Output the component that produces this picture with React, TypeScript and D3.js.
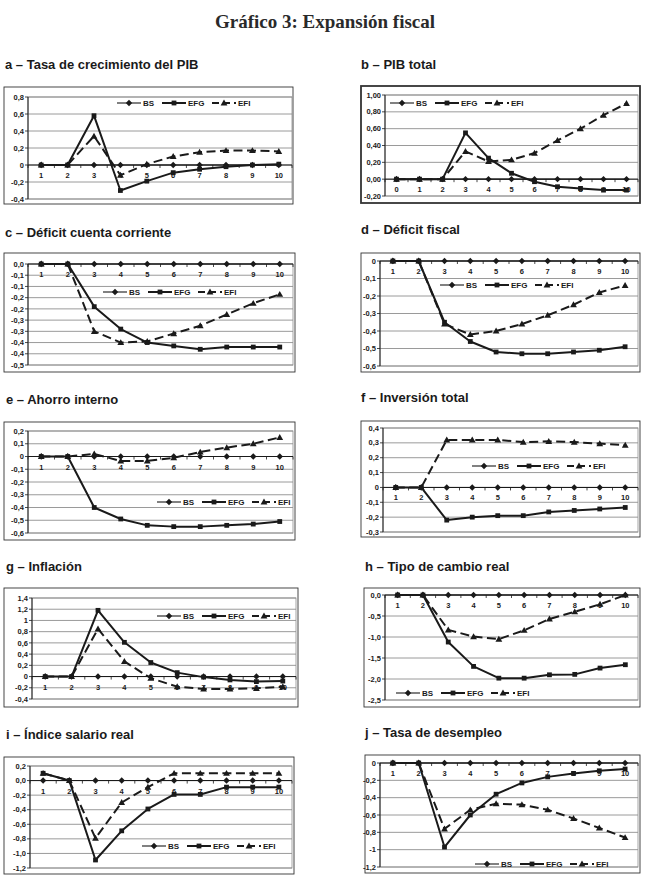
import * as d3 from "d3";

// categories
const periods = ["1", "2", "3", "4", "5", "6", "7", "8", "9", "10"];
const periodsB = ["0", "1", "2", "3", "4", "5", "6", "7", "8", "9", "10"];

// a - Tasa de crecimiento del PIB
const aBS = [0, 0, 0, 0, 0, 0, 0, 0, 0, 0];
const aEFG = [0, 0, 0.58, -0.3, -0.19, -0.09, -0.05, -0.02, 0, 0.01];
const aEFI = [0, 0, 0.34, -0.12, 0.01, 0.1, 0.15, 0.17, 0.17, 0.16];

// b - PIB total
const bBS = [0, 0, 0, 0, 0, 0, 0, 0, 0, 0, 0];
const bEFG = [0, 0, 0, 0.55, 0.25, 0.07, -0.03, -0.09, -0.11, -0.13, -0.13];
const bEFI = [0, 0, 0, 0.33, 0.21, 0.23, 0.31, 0.46, 0.6, 0.76, 0.9];

// c - Déficit cuenta corriente
const cBS = [0, 0, 0, 0, 0, 0, 0, 0, 0, 0];
const cEFG = [0, 0, -0.19, -0.29, -0.35, -0.365, -0.38, -0.37, -0.37, -0.37];
const cEFI = [0, 0, -0.3, -0.35, -0.345, -0.31, -0.275, -0.225, -0.175, -0.135];

// d - Déficit fiscal
const dBS = [0, 0, 0, 0, 0, 0, 0, 0, 0, 0];
const dEFG = [0, 0, -0.35, -0.46, -0.52, -0.53, -0.53, -0.52, -0.51, -0.49];
const dEFI = [0, 0, -0.36, -0.42, -0.4, -0.36, -0.31, -0.25, -0.18, -0.14];

// e - Ahorro interno
const eBS = [0, 0, 0, 0, 0, 0, 0, 0, 0, 0];
const eEFG = [0, 0, -0.4, -0.49, -0.54, -0.55, -0.55, -0.54, -0.53, -0.51];
const eEFI = [0, 0, 0.02, -0.035, -0.035, -0.01, 0.035, 0.07, 0.1, 0.15];

// f - Inversión total
const fBS = [0, 0, 0, 0, 0, 0, 0, 0, 0, 0];
const fEFG = [0, 0, -0.22, -0.2, -0.19, -0.19, -0.165, -0.155, -0.145, -0.135];
const fEFI = [0, 0, 0.32, 0.32, 0.32, 0.305, 0.31, 0.305, 0.295, 0.285];

// g - Inflación
const gBS = [0, 0, 0, 0, 0, 0, 0, 0, 0, 0];
const gEFG = [0, 0, 1.18, 0.61, 0.25, 0.07, -0.01, -0.06, -0.09, -0.08];
const gEFI = [0, 0, 0.85, 0.27, -0.03, -0.18, -0.22, -0.22, -0.21, -0.18];

// h - Tipo de cambio real
const hBS = [0, 0, 0, 0, 0, 0, 0, 0, 0, 0];
const hEFG = [0, 0, -1.12, -1.7, -1.98, -1.98, -1.9, -1.89, -1.74, -1.66];
const hEFI = [0, 0, -0.83, -0.99, -1.05, -0.84, -0.57, -0.4, -0.22, 0];

// i - Índice salario real
const iBS = [0, 0, 0, 0, 0, 0, 0, 0, 0, 0];
const iEFG = [0.1, 0, -1.09, -0.69, -0.39, -0.19, -0.19, -0.09, -0.09, -0.09];
const iEFI = [0.1, 0, -0.79, -0.3, -0.09, 0.1, 0.1, 0.1, 0.1, 0.1];

// j - Tasa de desempleo
const jBS = [0, 0, 0, 0, 0, 0, 0, 0, 0, 0];
const jEFG = [0, 0, -0.97, -0.6, -0.36, -0.23, -0.16, -0.12, -0.09, -0.07];
const jEFI = [0, 0, -0.76, -0.54, -0.47, -0.48, -0.54, -0.64, -0.75, -0.86];

const seriesNames = ["BS", "EFG", "EFI"];

type PanelDef = {
  title: string;
  tx: number;
  ty: number;
  box: [number, number, number, number];
  plot: [number, number, number, number];
  domain: [number, number];
  step: number;
  dec: number | null;
  cats: string[];
  bs: number[];
  efg: number[];
  efi: number[];
  legend: [number, number];
  thick?: boolean;
};

const panels: PanelDef[] = [
  { title: "a – Tasa de crecimiento del PIB", tx: 5, ty: 69, box: [4, 87, 293, 204], plot: [28, 97, 292, 199], domain: [-0.4, 0.8], step: 0.2, dec: null, cats: periods, bs: aBS, efg: aEFG, efi: aEFI, legend: [117, 103] },
  { title: "b – PIB total", tx: 361, ty: 69, box: [361, 86, 640, 203], plot: [385, 95, 638, 196], domain: [-0.2, 1.0], step: 0.2, dec: 2, cats: periodsB, bs: bBS, efg: bEFG, efi: bEFI, legend: [390, 103], thick: true },
  { title: "c – Déficit cuenta corriente", tx: 5, ty: 237, box: [4, 253, 295, 372], plot: [28, 264, 293, 365], domain: [-0.45, 0], step: 0.05, dec: 1, cats: periods, bs: cBS, efg: cEFG, efi: cEFI, legend: [103, 292] },
  { title: "d – Déficit fiscal", tx: 361, ty: 234, box: [361, 253, 640, 372], plot: [380, 261, 638, 366], domain: [-0.6, 0], step: 0.1, dec: null, cats: periods, bs: dBS, efg: dEFG, efi: dEFI, legend: [440, 285] },
  { title: "e – Ahorro interno", tx: 6, ty: 404, box: [4, 422, 295, 540], plot: [28, 431, 293, 533], domain: [-0.6, 0.2], step: 0.1, dec: null, cats: periods, bs: eBS, efg: eEFG, efi: eEFI, legend: [157, 502] },
  { title: "f – Inversión total", tx: 361, ty: 402, box: [361, 421, 640, 537], plot: [383, 428, 638, 532], domain: [-0.3, 0.4], step: 0.1, dec: null, cats: periods, bs: fBS, efg: fEFG, efi: fEFI, legend: [472, 466] },
  { title: "g – Inflación", tx: 6, ty: 571, box: [4, 588, 298, 707], plot: [32, 598, 296, 699], domain: [-0.4, 1.4], step: 0.2, dec: null, cats: periods, bs: gBS, efg: gEFG, efi: gEFI, legend: [157, 616] },
  { title: "h – Tipo de cambio real", tx: 365, ty: 571, box: [364, 588, 640, 707], plot: [385, 595, 638, 700], domain: [-2.5, 0], step: 0.5, dec: 1, cats: periods, bs: hBS, efg: hEFG, efi: hEFI, legend: [396, 693] },
  { title: "i – Índice salario real", tx: 6, ty: 739, box: [4, 757, 294, 874], plot: [30, 766, 292, 868], domain: [-1.2, 0.2], step: 0.2, dec: 1, cats: periods, bs: iBS, efg: iEFG, efi: iEFI, legend: [142, 846] },
  { title: "j – Tasa de desempleo", tx: 365, ty: 737, box: [365, 755, 640, 873], plot: [380, 763, 638, 867], domain: [-1.2, 0], step: 0.2, dec: null, cats: periods, bs: jBS, efg: jEFG, efi: jEFI, legend: [475, 864] },
];

function fmt(v: number, dec: number | null) {
  if (Math.abs(v) < 1e-9) v = 0;
  if (dec === null) {
    return String(+v.toFixed(4)).replace(".", ",");
  }
  const p = Math.pow(10, dec);
  const a = Math.round(Math.abs(v) * p + 1e-6) / p;
  return (v < 0 ? "-" : "") + a.toFixed(dec).replace(".", ",");
}

const INK = "#1a1a1a";
const GRID = "#8e8e8e";
const font = "'Liberation Sans', Arial, sans-serif";

function Marker({ kind, x, y }: { kind: number; x: number; y: number }) {
  if (kind === 0) {
    const r = 3.2;
    return <path d={`M${x},${y - r}L${x + r},${y}L${x},${y + r}L${x - r},${y}Z`} fill={INK} />;
  }
  if (kind === 1) {
    const r = 2.4;
    return <rect x={x - r} y={y - r} width={2 * r} height={2 * r} fill={INK} />;
  }
  const s = 3.4;
  return <path d={`M${x},${y - s}L${x + s},${y + s * 0.75}L${x - s},${y + s * 0.75}Z`} fill={INK} />;
}

const lineStyle = [
  { w: 1.1, dash: undefined },
  { w: 2, dash: undefined },
  { w: 2, dash: "9,4.5" },
];

function Panel({ p }: { p: PanelDef }) {
  const [px0, py0, px1, py1] = p.plot;
  const x = d3.scaleBand<string>().domain(p.cats).range([px0, px1]).padding(0);
  const y = d3.scaleLinear().domain(p.domain).range([py1, py0]);
  const n = Math.round((p.domain[1] - p.domain[0]) / p.step);
  const ticks = d3.range(n + 1).map((i) => p.domain[0] + i * p.step);
  const cx = (c: string) => (x(c) as number) + x.bandwidth() / 2;
  const line = d3
    .line<number>()
    .x((_, i) => cx(p.cats[i]))
    .y((v) => y(v));
  const all = [p.bs, p.efg, p.efi];
  const y0 = y(0);
  const [bx0, by0, bx1, by1] = p.box;
  const legendOffsets = [0, 45, 95];

  return (
    <g>
      <text x={p.tx} y={p.ty} fontFamily={font} fontWeight="bold" fontSize={13} fill={INK}>
        {p.title}
      </text>
      <rect x={bx0} y={by0} width={bx1 - bx0} height={by1 - by0} fill="white" stroke="#333" strokeWidth={p.thick ? 1.8 : 0.9} />
      <rect x={px0} y={py0} width={px1 - px0} height={py1 - py0} fill="none" stroke={GRID} strokeWidth={0.8} />
      {ticks.map((t, i) => (
        <g key={i}>
          <line x1={px0} x2={px1} y1={y(t)} y2={y(t)} stroke={GRID} strokeWidth={0.9} />
          <line x1={px0 - 3} x2={px0} y1={y(t)} y2={y(t)} stroke={INK} strokeWidth={0.8} />
          <text x={px0 - 4} y={y(t)} dy="0.35em" textAnchor="end" fontFamily={font} fontWeight="bold" fontSize={7.5} fill={INK}>
            {fmt(t, p.dec)}
          </text>
        </g>
      ))}
      <line x1={px0} x2={px0} y1={py0} y2={py1} stroke={INK} strokeWidth={1} />
      <line x1={px0} x2={px1} y1={y0} y2={y0} stroke={INK} strokeWidth={1} />
      {p.cats.map((c, i) => (
        <g key={c}>
          <line x1={x(c) as number} x2={x(c) as number} y1={y0} y2={y0 + 3} stroke={INK} strokeWidth={0.8} />
          {i === p.cats.length - 1 && <line x1={px1} x2={px1} y1={y0} y2={y0 + 3} stroke={INK} strokeWidth={0.8} />}
          <text x={cx(c)} y={y0 + 13} textAnchor="middle" fontFamily={font} fontWeight="bold" fontSize={7.5} fill={INK}>
            {c}
          </text>
        </g>
      ))}
      {all.map((vals, k) => (
        <g key={k}>
          <path d={line(vals) || ""} fill="none" stroke={INK} strokeWidth={lineStyle[k].w} strokeDasharray={lineStyle[k].dash} strokeLinejoin="round" />
          {vals.map((v, i) => (
            <Marker key={i} kind={k} x={cx(p.cats[i])} y={y(v)} />
          ))}
        </g>
      ))}
      <g>
        {seriesNames.map((name, k) => {
          const lx = p.legend[0] + legendOffsets[k];
          const ly = p.legend[1];
          return (
            <g key={name}>
              <line x1={lx} x2={lx + 24} y1={ly} y2={ly} stroke={INK} strokeWidth={lineStyle[k].w} strokeDasharray={k === 2 ? "7,4" : undefined} />
              <Marker kind={k} x={lx + 12} y={ly} />
              <text x={lx + 26} y={ly} dy="0.35em" fontFamily={font} fontWeight="bold" fontSize={8} fill={INK}>
                {name}
              </text>
            </g>
          );
        })}
      </g>
    </g>
  );
}

export default function App() {
  return (
    <div style={{ position: "absolute", left: 0, top: 0 }}>
      <svg width={650} height={884} viewBox="0 0 650 884" style={{ display: "block", background: "white" }}>
        <text x={325} y={28} textAnchor="middle" fontFamily="'Liberation Serif', 'Times New Roman', serif" fontWeight="bold" fontSize={19} fill="#2a2a2a">
          Gráfico 3: Expansión fiscal
        </text>
        {panels.map((p) => (
          <Panel key={p.title} p={p} />
        ))}
      </svg>
    </div>
  );
}
